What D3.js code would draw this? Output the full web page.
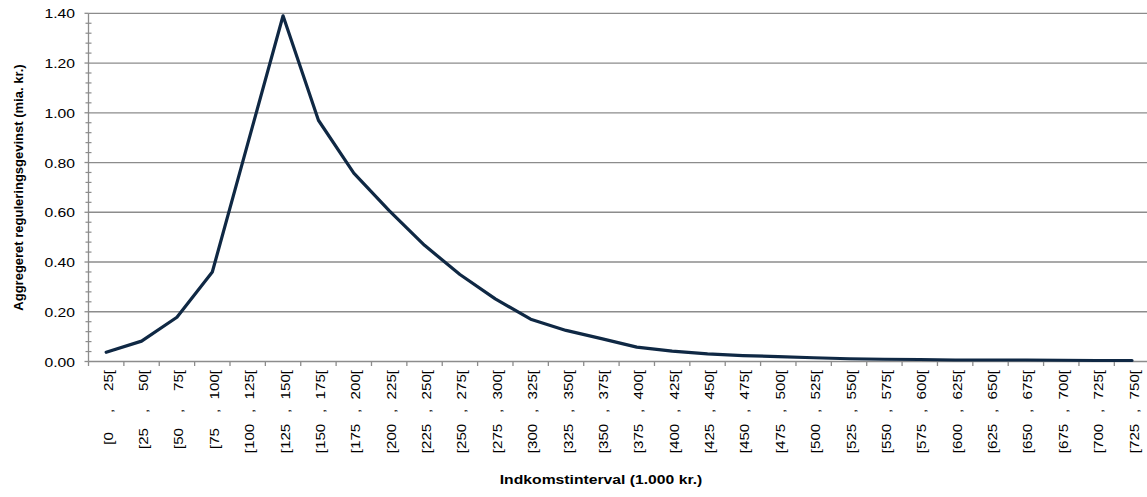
<!DOCTYPE html>
<html>
<head>
<meta charset="utf-8">
<script src="https://cdn.jsdelivr.net/npm/d3@7"></script>
<style>
  body { margin: 0; background: #fff; }
  svg { display: block; }
  text { font-family: "Liberation Sans", Arial, Helvetica, sans-serif; fill: #000; }
</style>
</head>
<body>
<svg id="chart" width="1147" height="497"></svg>
<script>
// Income intervals (1.000 kr.)
const categories = [
  "[0 , 25[", "[25 , 50[", "[50 , 75[", "[75 , 100[", "[100 , 125[", "[125 , 150[",
  "[150 , 175[", "[175 , 200[", "[200 , 225[", "[225 , 250[", "[250 , 275[", "[275 , 300[",
  "[300 , 325[", "[325 , 350[", "[350 , 375[", "[375 , 400[", "[400 , 425[", "[425 , 450[",
  "[450 , 475[", "[475 , 500[", "[500 , 525[", "[525 , 550[", "[550 , 575[", "[575 , 600[",
  "[600 , 625[", "[625 , 650[", "[650 , 675[", "[675 , 700[", "[700 , 725[", "[725 , 750["
];

// Aggregated regulation gain per interval (mia. kr.)
const values = [
  0.037, 0.082, 0.178, 0.360, 0.875, 1.390,
  0.970, 0.757, 0.607, 0.467, 0.350, 0.252,
  0.170, 0.125, 0.092, 0.058, 0.042, 0.031,
  0.024, 0.020, 0.015, 0.011, 0.009, 0.008,
  0.006, 0.006, 0.006, 0.005, 0.004, 0.004
];

const yTicks = [0, 0.2, 0.4, 0.6, 0.8, 1.0, 1.2, 1.4];
const yMinorTicks = d3.range(0, 36).map(i => i * 0.04).filter((d, i) => i % 5 !== 0);

const yTitle = "Aggregeret reguleringsgevinst (mia. kr.)";
const xTitle = "Indkomstinterval (1.000 kr.)";

const W = 1147, H = 497;
const plot = { left: 88.5, right: 1149.7, top: 13.3, bottom: 361.5 };
const wide = 1.21;          // stretch of tick-label and title glyphs along the reading direction
const axisColor = "#8c8c8c";

const x = d3.scaleBand().domain(categories).range([plot.left, plot.right]).padding(0);
const y = d3.scaleLinear().domain([0, 1.4]).range([plot.bottom, plot.top]);

const svg = d3.select("#chart");

// horizontal gridlines
svg.append("g")
  .selectAll("line")
  .data(yTicks.filter(d => d > 0))
  .join("line")
  .attr("x1", plot.left).attr("x2", plot.right)
  .attr("y1", d => y(d)).attr("y2", d => y(d))
  .attr("stroke", axisColor).attr("stroke-width", 1.3);

// y axis: line, major ticks, minor ticks
const yAxis = svg.append("g");
yAxis.append("line")
  .attr("x1", plot.left).attr("x2", plot.left)
  .attr("y1", plot.top).attr("y2", plot.bottom)
  .attr("stroke", axisColor).attr("stroke-width", 1.3);
yAxis.selectAll("line.major")
  .data(yTicks).join("line").attr("class", "major")
  .attr("x1", plot.left - 4).attr("x2", plot.left)
  .attr("y1", d => y(d)).attr("y2", d => y(d))
  .attr("stroke", axisColor).attr("stroke-width", 1.3);
yAxis.selectAll("line.minor")
  .data(yMinorTicks).join("line").attr("class", "minor")
  .attr("x1", plot.left - 3).attr("x2", plot.left + 3)
  .attr("y1", d => y(d)).attr("y2", d => y(d))
  .attr("stroke", axisColor).attr("stroke-width", 1.2);
yAxis.selectAll("text")
  .data(yTicks).join("text")
  .attr("transform", d => `translate(75,${y(d) + 5}) scale(${wide},1)`)
  .attr("text-anchor", "end")
  .attr("font-size", 13)
  .text(d3.format(".2f"));

// x axis: line, ticks at interval boundaries
const xAxis = svg.append("g");
xAxis.append("line")
  .attr("x1", plot.left).attr("x2", plot.right)
  .attr("y1", y(0)).attr("y2", y(0))
  .attr("stroke", axisColor).attr("stroke-width", 1.3);
xAxis.selectAll("line.tick")
  .data(categories.map(c => x(c)).concat([plot.right]))
  .join("line").attr("class", "tick")
  .attr("x1", d => d).attr("x2", d => d)
  .attr("y1", y(0)).attr("y2", y(0) + 4.5)
  .attr("stroke", axisColor).attr("stroke-width", 1.3);

// rotated interval labels: upper bound, separator and lower bound laid out in fixed columns
const labelX = d => x(d) + x.bandwidth() / 2 + 6.5;
const parts = d => {
  const m = d.match(/^\[(\d+) , (\d+)\[$/);
  return { lo: "[" + m[1], hi: m[2] + "[" };
};
const labels = xAxis.selectAll("g.label")
  .data(categories).join("g").attr("class", "label")
  .attr("font-size", 12.5);
labels.append("text")
  .attr("transform", d => `translate(${labelX(d)},370) rotate(-90) scale(${wide},1)`)
  .attr("text-anchor", "end")
  .text(d => parts(d).hi);
labels.append("text")
  .attr("transform", d => `translate(${labelX(d)},411) rotate(-90) scale(${wide},1)`)
  .attr("text-anchor", "middle")
  .text(",");
labels.append("text")
  .attr("transform", d => `translate(${labelX(d)},438.5) rotate(-90) scale(${wide},1)`)
  .attr("text-anchor", "middle")
  .text(d => parts(d).lo);

// axis titles
svg.append("text")
  .attr("transform", `translate(22.5,187.5) rotate(-90)`)
  .attr("text-anchor", "middle")
  .attr("font-size", 13)
  .attr("font-weight", "bold")
  .text(yTitle);
svg.append("text")
  .attr("transform", `translate(601,484) scale(${wide},1)`)
  .attr("text-anchor", "middle")
  .attr("font-size", 13)
  .attr("font-weight", "bold")
  .text(xTitle);

// data line
const line = d3.line()
  .x((d, i) => x(categories[i]) + x.bandwidth() / 2)
  .y(d => y(d));
svg.append("path")
  .datum(values)
  .attr("d", line)
  .attr("fill", "none")
  .attr("stroke", "#0f2844")
  .attr("stroke-width", 3.2)
  .attr("stroke-linejoin", "round")
  .attr("stroke-linecap", "round");
</script>
</body>
</html>
